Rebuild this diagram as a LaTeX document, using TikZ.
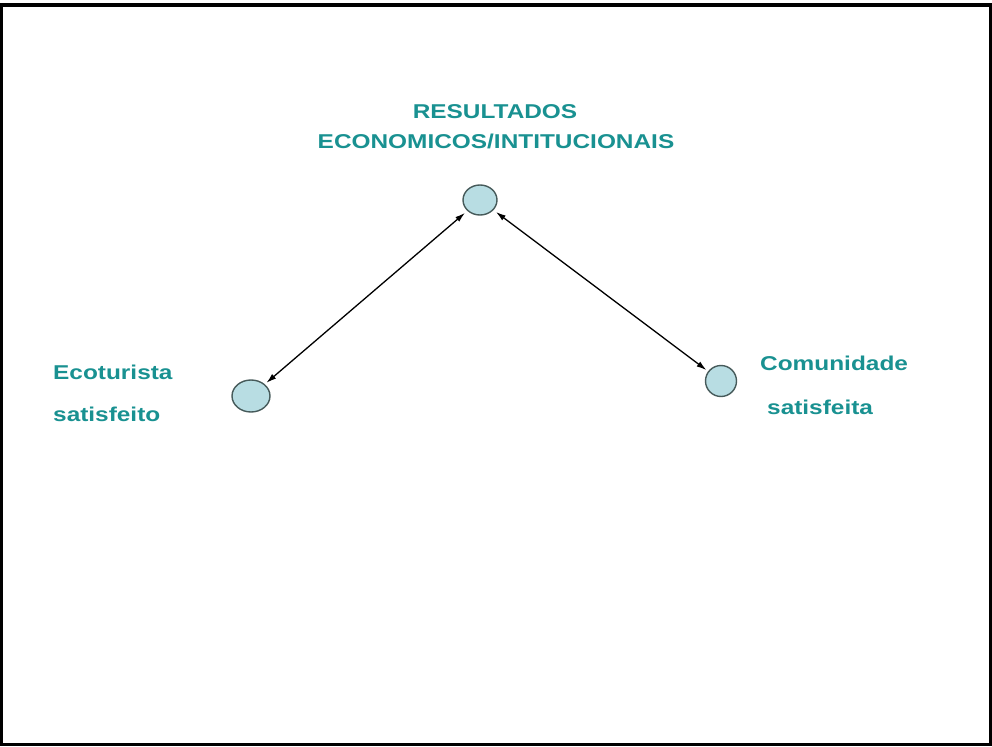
\documentclass[tikz,border=0pt]{standalone}
\usepackage{fontspec}
\setmainfont{Liberation Sans}[FakeStretch=1.22]
\usepackage{tikz}
\usetikzlibrary{arrows.meta,shapes}
\definecolor{tealtext}{RGB}{25,145,145}
\definecolor{bubble}{RGB}{184,221,227}
\definecolor{rim}{RGB}{70,90,90}

\begin{document}
\begin{tikzpicture}[x=1bp,y=1bp,
  bub/.style={draw=rim,line width=1.4bp,ellipse,fill=bubble,inner sep=0pt},
  lbl/.style={font=\fontsize{20bp}{24bp}\selectfont\bfseries,text=tealtext,inner sep=0pt},
  link/.style={{Latex[length=10bp,width=6bp]}-{Latex[length=10bp,width=6bp]},line width=1.3bp}]

\useasboundingbox (0,0) rectangle (992,-747);
\draw [line width=3bp] (1.5,-5.5) rectangle (990.5,-744.5);
\draw [line width=2bp] (0,-4) -- (992,-4);

\node (R1) at (495,-118)[lbl,anchor=base] {RESULTADOS};
\node (R2) at (496,-148)[lbl,anchor=base] {ECONOMICOS/INTITUCIONAIS};
\node (E1) at (53,-379)[lbl,anchor=base west] {Ecoturista};
\node (E2) at (53,-421)[lbl,anchor=base west] {satisfeito};
\node (C1) at (760,-370)[lbl,anchor=base west] {Comunidade};
\node (C2) at (767,-414)[lbl,anchor=base west] {satisfeita};

\node (Top) at (480,-200)[bub,minimum width=34bp,minimum height=30bp] {};
\node (Eco) at (251,-396)[bub,minimum width=38bp,minimum height=32bp] {};
\node (Com) at (721,-381)[bub,minimum width=31bp,minimum height=31bp] {};

\draw [link,shorten <=2bp,shorten >=3bp] (Eco) to (Top);
\draw [link,shorten <=3bp,shorten >=2bp] (Top) to (Com);
\end{tikzpicture}
\end{document}
